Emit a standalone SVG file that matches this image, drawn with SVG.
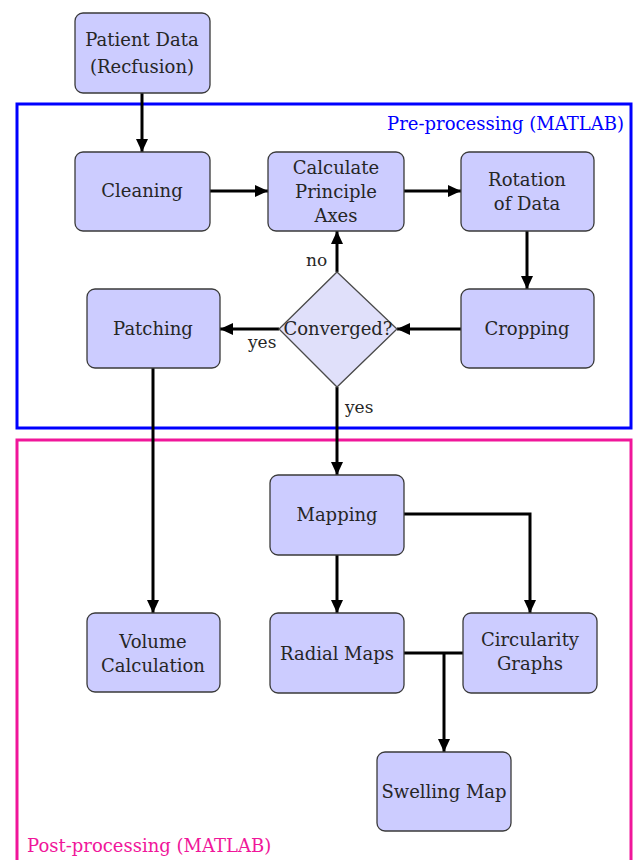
<svg xmlns="http://www.w3.org/2000/svg" width="633" height="860" viewBox="0 0 633 860">
<style>
.box{fill:#ccccff;stroke:#3a3a3a;stroke-width:1.3}
.dia{fill:#e0e0fa;stroke:#4a4a4a;stroke-width:1.3}
.t{font-family:"DejaVu Serif",serif;font-size:18px;fill:#262626;text-anchor:middle}
.lbl{font-family:"DejaVu Serif",serif;font-size:17px;fill:#262626}
.c{fill:none;stroke:#000;stroke-width:3}
.grp{font-family:"DejaVu Serif",serif;font-size:18px}
</style>
<defs>
<marker id="ah" markerUnits="userSpaceOnUse" markerWidth="13" markerHeight="12" refX="13" refY="6" orient="auto">
<path d="M0,0 L13,6 L0,12 z" fill="#000"/>
</marker>
</defs>
<rect width="633" height="860" fill="#fff"/>
<g id="pre-processing">
<rect x="17" y="104" width="614" height="324" fill="none" stroke="#0000ff" stroke-width="3"/>
<text class="grp" x="624" y="130" fill="#0000ff" text-anchor="end">Pre-processing (MATLAB)</text>
</g>
<g id="post-processing">
<rect x="17" y="440" width="614" height="430" fill="none" stroke="#f0169a" stroke-width="3"/>
<text class="grp" x="27" y="852" fill="#f0169a">Post-processing (MATLAB)</text>
</g>
<g id="connectors">
<line class="c" x1="142" y1="93" x2="142" y2="152" marker-end="url(#ah)"/>
<line class="c" x1="210" y1="191" x2="268" y2="191" marker-end="url(#ah)"/>
<line class="c" x1="404" y1="191" x2="461" y2="191" marker-end="url(#ah)"/>
<line class="c" x1="527" y1="231" x2="527" y2="289" marker-end="url(#ah)"/>
<line class="c" x1="461" y1="329" x2="397" y2="329" marker-end="url(#ah)"/>
<line class="c" x1="337" y1="272" x2="337" y2="231" marker-end="url(#ah)"/>
<line class="c" x1="279" y1="329" x2="220" y2="329" marker-end="url(#ah)"/>
<line class="c" x1="337" y1="387" x2="337" y2="475" marker-end="url(#ah)"/>
<line class="c" x1="153" y1="368" x2="153" y2="613" marker-end="url(#ah)"/>
<line class="c" x1="337" y1="555" x2="337" y2="613" marker-end="url(#ah)"/>
<polyline class="c" points="404,514 530,514 530,613" marker-end="url(#ah)"/>
<line class="c" x1="404" y1="653" x2="463" y2="653"/>
<line class="c" x1="444" y1="653" x2="444" y2="752" marker-end="url(#ah)"/>
<text class="lbl" x="306" y="266">no</text>
<text class="lbl" x="248" y="348">yes</text>
<text class="lbl" x="345" y="413">yes</text>
</g>
<g id="patient-data">
<rect class="box" x="75" y="13" width="135" height="80" rx="8"/>
<text class="t" x="142" y="46">Patient Data</text>
<text class="t" x="142" y="73">(Recfusion)</text>
</g>
<g id="cleaning">
<rect class="box" x="75" y="152" width="135" height="79" rx="8"/>
<text class="t" x="142" y="197">Cleaning</text>
</g>
<g id="calculate">
<rect class="box" x="268" y="152" width="136" height="79" rx="8"/>
<text class="t" x="336" y="174">Calculate</text>
<text class="t" x="336" y="198">Principle</text>
<text class="t" x="336" y="222">Axes</text>
</g>
<g id="rotation">
<rect class="box" x="461" y="152" width="133" height="79" rx="8"/>
<text class="t" x="527" y="186">Rotation</text>
<text class="t" x="527" y="210">of Data</text>
</g>
<g id="cropping">
<rect class="box" x="461" y="289" width="133" height="79" rx="8"/>
<text class="t" x="527" y="335">Cropping</text>
</g>
<g id="converged">
<polygon class="dia" points="337,272 397,329 337,387 279,329"/>
<text class="t" x="338" y="335">Converged?</text>
</g>
<g id="patching">
<rect class="box" x="87" y="289" width="133" height="79" rx="8"/>
<text class="t" x="153" y="335">Patching</text>
</g>
<g id="mapping">
<rect class="box" x="270" y="475" width="134" height="80" rx="8"/>
<text class="t" x="337" y="521">Mapping</text>
</g>
<g id="volume">
<rect class="box" x="87" y="613" width="133" height="79" rx="8"/>
<text class="t" x="153" y="648">Volume</text>
<text class="t" x="153" y="672">Calculation</text>
</g>
<g id="radial">
<rect class="box" x="270" y="613" width="134" height="80" rx="8"/>
<text class="t" x="337" y="660">Radial Maps</text>
</g>
<g id="circularity">
<rect class="box" x="463" y="613" width="134" height="80" rx="8"/>
<text class="t" x="530" y="646">Circularity</text>
<text class="t" x="530" y="670">Graphs</text>
</g>
<g id="swelling">
<rect class="box" x="377" y="752" width="134" height="79" rx="8"/>
<text class="t" x="444" y="798">Swelling Map</text>
</g>
</svg>
